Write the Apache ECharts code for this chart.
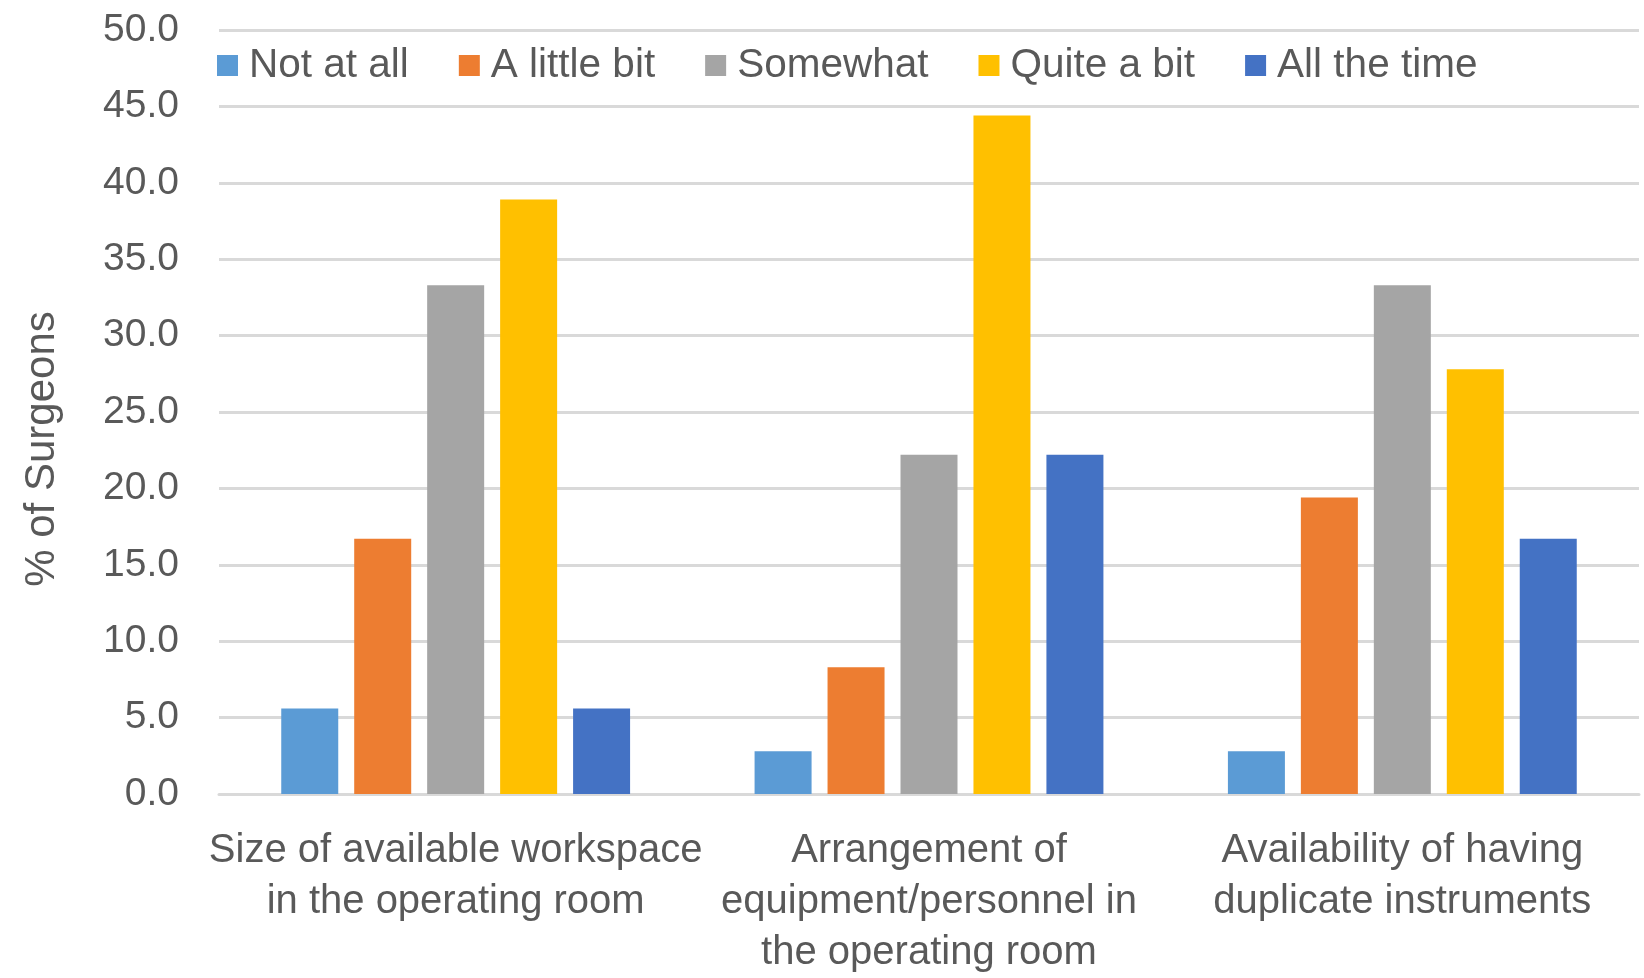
<!DOCTYPE html>
<html>
<head>
<meta charset="utf-8">
<script src="https://cdn.jsdelivr.net/npm/echarts@6/dist/echarts.min.js"></script>
<style>
  html, body { margin: 0; padding: 0; background: #ffffff; }
  #chart { width: 1644px; height: 978px; }
</style>
</head>
<body>
<div id="chart"></div>
<script>
// Survey categories (x axis), wrapped as they appear under the axis
const categories = [
  'Size of available workspace\nin the operating room',
  'Arrangement of\nequipment/personnel in\nthe operating room',
  'Availability of having\nduplicate instruments'
];

// Response levels (legend order)
const seriesNames = ['Not at all', 'A little bit', 'Somewhat', 'Quite a bit', 'All the time'];

// % of surgeons per response level, one value per category
const notAtAll   = [5.6, 2.8, 2.8];
const aLittleBit = [16.7, 8.3, 19.4];
const somewhat   = [33.3, 22.2, 33.3];
const quiteABit  = [38.9, 44.4, 27.8];
const allTheTime = [5.6, 22.2, 16.7];

const seriesValues = [notAtAll, aLittleBit, somewhat, quiteABit, allTheTime];
const seriesColors = ['#5B9BD5', '#ED7D31', '#A5A5A5', '#FFC000', '#4472C4'];

const FONT = '"Liberation Sans", Arial, sans-serif';
const TEXT = '#595959';
const GRID = '#D9D9D9';

const chart = echarts.init(document.getElementById('chart'), null, { renderer: 'canvas' });

chart.setOption({
  animation: false,
  backgroundColor: '#ffffff',
  textStyle: { fontFamily: FONT, color: TEXT },
  legend: {
    data: seriesNames,
    left: 212,
    top: 40,
    itemWidth: 21,
    itemHeight: 21,
    itemGap: 50,
    icon: 'rect',
    textStyle: { fontFamily: FONT, fontSize: 40.5, color: TEXT, lineHeight: 41, padding: [0, 0, 0, 6] }
  },
  grid: { left: 219, right: 5, top: 30, bottom: 173, containLabel: false },
  // vertical axis title
  graphic: [{
    type: 'text',
    x: 42,
    y: 449,
    rotation: Math.PI / 2,
    style: {
      text: '% of Surgeons',
      fontFamily: FONT,
      fontSize: 42,
      fill: TEXT,
      align: 'center',
      verticalAlign: 'middle'
    }
  }],
  xAxis: {
    type: 'category',
    data: categories,
    axisTick: { show: false },
    axisLine: { lineStyle: { color: GRID, width: 3 } },
    axisLabel: {
      interval: 0,
      margin: 31,
      fontFamily: FONT,
      fontSize: 40,
      lineHeight: 51,
      color: TEXT,
      align: 'center',
      verticalAlign: 'top'
    }
  },
  yAxis: {
    type: 'value',
    min: 0,
    max: 50,
    interval: 5,
    axisLine: { show: false },
    axisTick: { show: false },
    splitLine: { lineStyle: { color: GRID, width: 3 } },
    axisLabel: {
      margin: 40,
      fontFamily: FONT,
      fontSize: 39,
      color: TEXT,
      padding: [0, 0, 8, 0],
      formatter: v => v.toFixed(1)
    }
  },
  series: seriesNames.map((name, i) => ({
    name: name,
    type: 'bar',
    data: seriesValues[i],
    barWidth: 57,
    barGap: '28%',
    itemStyle: { color: seriesColors[i] }
  }))
});
</script>
</body>
</html>
